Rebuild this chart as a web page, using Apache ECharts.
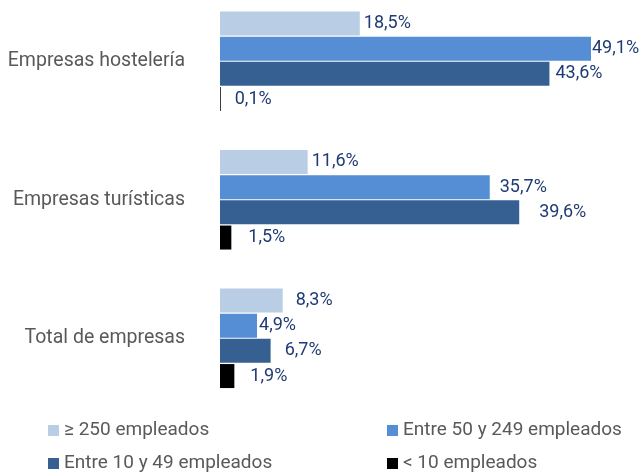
<!DOCTYPE html>
<html>
<head>
<meta charset="utf-8">
<script src="https://cdn.jsdelivr.net/npm/echarts@6/dist/echarts.min.js"></script>
<style>html,body{margin:0;padding:0;background:#fff;overflow:hidden}#c{position:absolute;left:0;top:-8px;width:643px;height:480px}</style>
</head>
<body>
<div id="c"></div>
<script>
const categories = ['Empresas hostelería', 'Empresas turísticas', 'Total de empresas'];
const seriesNames = ['≥ 250 empleados', 'Entre 50 y 249 empleados', 'Entre 10 y 49 empleados', '< 10 empleados'];
const s250 = [18.5, 11.6, 8.3];
const s50 = [49.1, 35.7, 4.9];
const s10 = [43.6, 39.6, 6.7];
const sLess10 = [0.1, 1.5, 1.9];

// label gaps (layout only)
const gaps = [[4, 4, 13], [1, 10, 2], [6, 20, 14], [14, 17, 16]];
const colors = ['#B9CDE5', '#558ED5', '#376092', '#000000'];
const values = [s250, s50, s10, sLess10];

const FONT = 'Roboto';
const chart = echarts.init(document.getElementById('c'), null, {renderer: 'canvas'});
const series = values.map((vals, i) => ({
  name: seriesNames[i],
  type: 'bar',
  barWidth: 24,
  barGap: '5%',
  itemStyle: {color: colors[i]},
  data: vals.map((v, j) => ({
    value: v,
    label: {distance: gaps[i][j]}
  })),
  label: {
    show: true,
    position: 'right',
    fontFamily: FONT,
    fontSize: 18,
    color: '#1F3B73',
    formatter: p => p.value.toFixed(1).replace('.', ',') + '%'
  }
}));

const legendText = {fontFamily: FONT, fontSize: 19, color: '#595959'};
chart.setOption({
  animation: false,
  textStyle: {fontFamily: FONT},
  grid: {left: 220, top: 0, width: 377.8, height: 415.5},
  xAxis: {type: 'value', min: 0, max: 50, show: false},
  yAxis: {
    type: 'category', data: categories, inverse: true,
    axisLine: {show: false}, axisTick: {show: false},
    axisLabel: {margin: 35, fontFamily: FONT, fontSize: 19.5, color: '#595959'}
  },
  legend: [
    {data: [seriesNames[0], seriesNames[2]], orient: 'vertical', left: 43, top: 424, height: 60,
     itemWidth: 11, itemHeight: 11, itemGap: 14, icon: 'rect', textStyle: legendText},
    {data: [seriesNames[1], seriesNames[3]], orient: 'vertical', left: 382, top: 424, height: 60,
     itemWidth: 11, itemHeight: 11, itemGap: 14, icon: 'rect', textStyle: legendText}
  ],
  series: series
});
</script>
</body>
</html>
